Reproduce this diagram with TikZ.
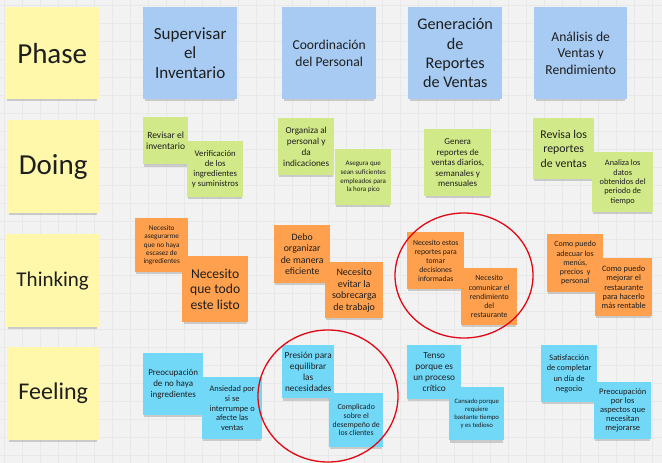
\documentclass[tikz,border=0pt]{standalone}
\usepackage{fontspec}
\setmainfont{Carlito}
\usepackage{xcolor}
\usepackage{tikz}
\usetikzlibrary{shadows}

\definecolor{boardbg}{HTML}{F2F2F2}
\definecolor{gridcol}{HTML}{E8E8E8}
\definecolor{stickyyellow}{HTML}{FFF8AA}
\definecolor{stickyblue}{HTML}{A7CBF3}
\definecolor{stickygreen}{HTML}{D2E98A}
\definecolor{stickyorange}{HTML}{FFA04E}
\definecolor{stickycyan}{HTML}{72D8F8}
\definecolor{ink}{HTML}{1E1E1E}
\definecolor{markred}{HTML}{E30613}

\begin{document}
\begin{tikzpicture}[
    x=1pt, y=-1pt,
    note/.style={
        rectangle,
        anchor=north west,
        inner sep=1pt,
        align=center,
        text=ink,
        drop shadow={shadow xshift=0pt, shadow yshift=-3.5pt,
                     shadow scale=0.96, opacity=0.35}
    },
    wh/.style 2 args={minimum width=#1pt, minimum height=#2pt},
    fs/.style 2 args={font=\fontsize{#1}{#2}\selectfont},
    lane/.style={note, fill=stickyyellow},
    stage/.style={note, fill=stickyblue},
    doing/.style={note, fill=stickygreen},
    thinking/.style={note, fill=stickyorange},
    feeling/.style={note, fill=stickycyan},
    ring/.style={draw=markred, line width=1.3pt}
]

% Board
\useasboundingbox (0,0) rectangle (662,463);
\fill[boardbg] (0,0) rectangle (662,463);
\foreach \gx in {4,22,...,662} \draw[gridcol, line width=0.4pt] (\gx,0) -- (\gx,463);
\foreach \gy in {5,23,...,463} \draw[gridcol, line width=0.4pt] (0,\gy) -- (662,\gy);

% Left column: lanes
\node[lane, wh={94}{92}, fs={29}{32}] (phase) at (5,7) {Phase};
\node[lane, wh={92}{93}, fs={29}{32}] (doing) at (7,120) {Doing};
\node[lane, wh={93}{93}, fs={21}{24}] (thinking) at (6,234) {Thinking};
\node[lane, wh={92}{93}, fs={24}{27}] (feeling) at (7,347) {Feeling};

% Top row: phases
\node[stage, wh={94}{92}, fs={17}{19.5}] (supervisar) at (143,7) {Supervisar\\el\\Inventario};
\node[stage, wh={94}{92}, fs={13.6}{17}] (coordinacion) at (282,7) {Coordinación\\del Personal};
\node[stage, wh={94}{92}, fs={16.2}{19.3}] (generacion) at (408,7) {Generación\\de\\Reportes\\de Ventas};
\node[stage, wh={93}{92}, fs={13.6}{16.5}] (analisis) at (534,7) {Análisis de\\Ventas y\\Rendimiento};

% Doing
\node[doing, wh={45}{47}, fs={9.5}{11}] (revisar) at (143,117) {Revisar el\\inventario};
\node[doing, wh={56}{56}, fs={8.7}{10}] (verificacion) at (187,141) {Verificación\\de los\\ingredientes\\y suministros};
\node[doing, wh={56}{57}, fs={9.2}{11}] (organiza) at (278,118) {Organiza al\\personal y\\da\\indicaciones};
\node[doing, wh={56}{56}, fs={7}{8.7}] (asegura) at (335,149) {Asegura que\\sean suficientes\\empleados para\\la hora pico};
\node[doing, wh={67}{67}, fs={9}{10.5}] (genera) at (424,129) {Genera\\reportes de\\ventas diarios,\\semanales y\\mensuales};
\node[doing, wh={61}{61}, fs={11.8}{14.3}] (revisa) at (533,118) {Revisa los\\reportes\\de ventas};
\node[doing, wh={61}{60}, fs={8.3}{9.3}] (analiza) at (592,152) {Analiza los\\datos\\obtenidos del\\periodo de\\tiempo};

% Thinking
\node[thinking, wh={53}{54}, fs={7.2}{8.3}] (asegurarme) at (135,218) {Necesito\\asegurarme\\que no haya\\escasez de\\ingredientes};
\node[thinking, wh={66}{66}, fs={13.6}{15.5}] (listo) at (182,256) {Necesito\\que todo\\este listo};
\node[thinking, wh={56}{58}, fs={9.8}{11.5}] (organizar) at (274,225) {Debo\\organizar\\de manera\\eficiente};
\node[thinking, wh={58}{56}, fs={10}{11.5}] (sobrecarga) at (325,262) {Necesito\\evitar la\\sobrecarga\\de trabajo};
\node[thinking, wh={57}{57}, fs={7.7}{9}] (decisiones) at (407,232) {Necesito estos\\reportes para\\tomar\\decisiones\\informadas};
\node[thinking, wh={56}{57}, fs={7.8}{9.2}] (comunicar) at (461,268) {Necesito\\comunicar el\\rendimiento\\del\\restaurante};
\node[thinking, wh={56}{58}, fs={8}{9.2}] (adecuar) at (547,234) {Como puedo\\adecuar los\\menús,\\precios\ \ y\\personal};
\node[thinking, wh={57}{58}, fs={8.3}{9.2}] (rentable) at (595,258) {Como puedo\\mejorar el\\restaurante\\para hacerlo\\más rentable};

% Feeling
\node[feeling, wh={60}{62}, fs={9}{10.8}] (preocupacion) at (143,353) {Preocupación\\de no haya\\ingredientes};
\node[feeling, wh={60}{62}, fs={8.4}{9.6}] (ansiedad) at (202,377) {Ansiedad por\\si se\\interrumpe o\\afecte las\\ventas};
\node[feeling, wh={52}{53}, fs={9.3}{10.8}] (presion) at (282,345) {Presión para\\equilibrar\\las\\necesidades};
\node[feeling, wh={54}{54}, fs={7.8}{8.7}] (complicado) at (329,393) {Complicado\\sobre el\\desempeño de\\los clientes};
\node[feeling, wh={54}{54}, fs={9.3}{10.8}] (tenso) at (407,345) {Tenso\\porque es\\un proceso\\crítico};
\node[feeling, wh={55}{53}, fs={6.7}{7.8}] (cansado) at (449,387) {Cansado porque\\requiere\\bastante tiempo\\y es tedioso};
\node[feeling, wh={56}{57}, fs={8.3}{10.3}] (satisfaccion) at (541,345) {Satisfacción\\de completar\\un día de\\negocio};
\node[feeling, wh={57}{57}, fs={8.5}{9}] (mejorarse) at (594,382) {Preocupación\\por los\\aspectos que\\necesitan\\mejorarse};

% Highlights
\draw[ring] (464,275.5) ellipse [x radius=69, y radius=62.5];
\draw[ring] (328,396) ellipse [x radius=70, y radius=66];

\end{tikzpicture}
\end{document}
